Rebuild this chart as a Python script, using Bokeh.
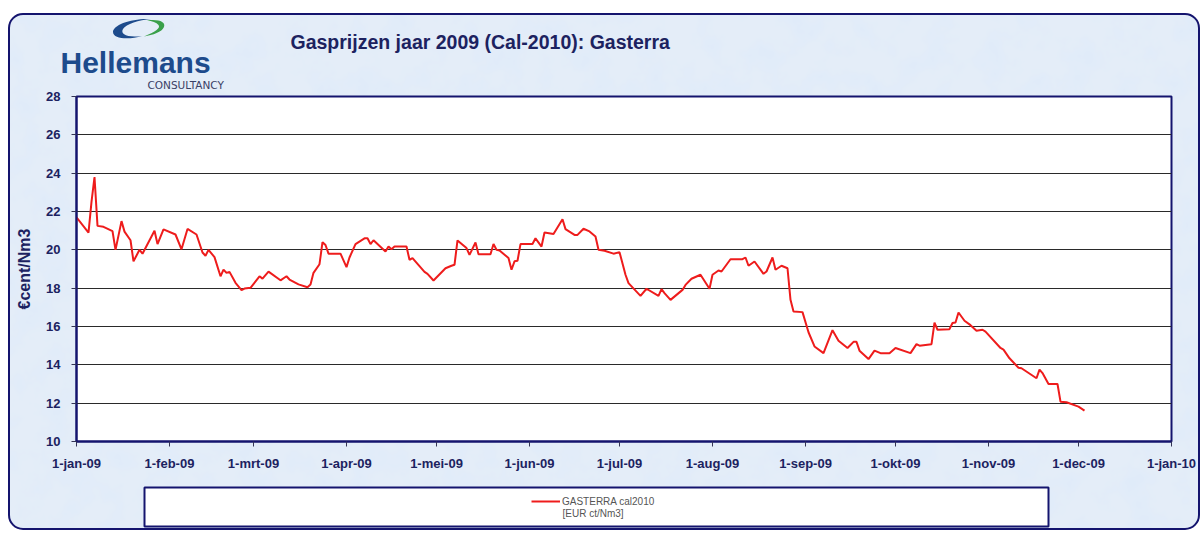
import urllib.parse
import pandas as pd
from datetime import datetime
from bokeh.plotting import figure
from bokeh.layouts import column
from bokeh.models import (FixedTicker, Title, Legend, LegendItem, Label, BoxAnnotation,
                          ColumnDataSource)
from bokeh.embed import file_html
from bokeh.resources import INLINE

# ---------------- data ----------------
dates = [
    "2009-01-01", "2009-01-05", "2009-01-06", "2009-01-07", "2009-01-08", "2009-01-10", "2009-01-13", "2009-01-14", "2009-01-16", "2009-01-17",
    "2009-01-19", "2009-01-20", "2009-01-22", "2009-01-23", "2009-01-27", "2009-01-28", "2009-01-30", "2009-02-03", "2009-02-05", "2009-02-07",
    "2009-02-10", "2009-02-12", "2009-02-13", "2009-02-14", "2009-02-16", "2009-02-18", "2009-02-19", "2009-02-20", "2009-02-21", "2009-02-23",
    "2009-02-25", "2009-02-26", "2009-02-28", "2009-03-03", "2009-03-04", "2009-03-06", "2009-03-10", "2009-03-12", "2009-03-13", "2009-03-16",
    "2009-03-19", "2009-03-20", "2009-03-21", "2009-03-23", "2009-03-24", "2009-03-25", "2009-03-26", "2009-03-30", "2009-04-01", "2009-04-02",
    "2009-04-04", "2009-04-07", "2009-04-08", "2009-04-09", "2009-04-10", "2009-04-14", "2009-04-15", "2009-04-16", "2009-04-17", "2009-04-21",
    "2009-04-22", "2009-04-23", "2009-04-27", "2009-04-28", "2009-04-30", "2009-05-04", "2009-05-06", "2009-05-07", "2009-05-08", "2009-05-11",
    "2009-05-12", "2009-05-14", "2009-05-15", "2009-05-19", "2009-05-20", "2009-05-21", "2009-05-22", "2009-05-25", "2009-05-26", "2009-05-27",
    "2009-05-28", "2009-05-29", "2009-06-02", "2009-06-03", "2009-06-05", "2009-06-06", "2009-06-09", "2009-06-12", "2009-06-13", "2009-06-16",
    "2009-06-17", "2009-06-19", "2009-06-21", "2009-06-23", "2009-06-24", "2009-06-26", "2009-06-29", "2009-07-01", "2009-07-03", "2009-07-04",
    "2009-07-08", "2009-07-10", "2009-07-14", "2009-07-15", "2009-07-16", "2009-07-18", "2009-07-22", "2009-07-23", "2009-07-25", "2009-07-28",
    "2009-07-31", "2009-08-01", "2009-08-03", "2009-08-04", "2009-08-07", "2009-08-11", "2009-08-12", "2009-08-13", "2009-08-15", "2009-08-18",
    "2009-08-19", "2009-08-21", "2009-08-22", "2009-08-24", "2009-08-26", "2009-08-27", "2009-08-28", "2009-08-31", "2009-09-02", "2009-09-04",
    "2009-09-07", "2009-09-10", "2009-09-12", "2009-09-15", "2009-09-17", "2009-09-18", "2009-09-19", "2009-09-22", "2009-09-24", "2009-09-26",
    "2009-09-29", "2009-10-01", "2009-10-06", "2009-10-08", "2009-10-09", "2009-10-13", "2009-10-14", "2009-10-15", "2009-10-19", "2009-10-20",
    "2009-10-21", "2009-10-22", "2009-10-24", "2009-10-26", "2009-10-28", "2009-10-30", "2009-10-31", "2009-11-05", "2009-11-06", "2009-11-08",
    "2009-11-11", "2009-11-12", "2009-11-17", "2009-11-18", "2009-11-19", "2009-11-21", "2009-11-24", "2009-11-25", "2009-11-27", "2009-12-01",
    "2009-12-03",
]
prices = [
    21.7, 20.9, 22.5, 23.8, 21.25, 21.2, 20.98, 20.0, 21.5, 20.95,
    20.5, 19.4, 20.0, 19.8, 21.0, 20.3, 21.07, 20.8, 20.03, 21.09,
    20.8, 19.86, 19.69, 20.0, 19.62, 18.62, 18.97, 18.8, 18.85, 18.28,
    17.9, 17.98, 18.02, 18.62, 18.5, 18.86, 18.41, 18.62, 18.45, 18.2,
    18.05, 18.19, 18.8, 19.25, 20.4, 20.25, 19.8, 19.8, 19.1, 19.6,
    20.3, 20.6, 20.6, 20.3, 20.5, 19.91, 20.17, 20.03, 20.17, 20.17,
    19.48, 19.57, 18.85, 18.75, 18.4, 19.04, 19.17, 19.22, 20.49, 20.09,
    19.74, 20.38, 19.77, 19.77, 20.3, 20.0, 19.97, 19.57, 18.96, 19.4,
    19.43, 20.3, 20.3, 20.6, 20.17, 20.9, 20.83, 21.6, 21.08, 20.78,
    20.78, 21.1, 20.96, 20.7, 20.0, 19.95, 19.8, 19.88, 18.7, 18.26,
    17.6, 17.97, 17.6, 17.95, 17.74, 17.39, 17.91, 18.17, 18.49, 18.7,
    17.97, 18.7, 18.92, 18.87, 19.51, 19.51, 19.6, 19.17, 19.39, 18.75,
    18.87, 19.6, 18.96, 19.17, 19.04, 17.39, 16.78, 16.75, 15.7, 14.96,
    14.61, 15.81, 15.26, 14.88, 15.2, 15.2, 14.74, 14.3, 14.74, 14.61,
    14.61, 14.88, 14.61, 15.08, 15.0, 15.08, 16.2, 15.83, 15.86, 16.18,
    16.21, 16.73, 16.3, 16.07, 15.78, 15.83, 15.73, 14.88, 14.79, 14.34,
    13.85, 13.82, 13.3, 13.75, 13.57, 13.0, 13.0, 12.08, 12.05, 11.82,
    11.61,
]
month_ticks = ["2009-01-01", "2009-02-01", "2009-03-01", "2009-04-01", "2009-05-01", "2009-06-01",
               "2009-07-01", "2009-08-01", "2009-09-01", "2009-10-01", "2009-11-01", "2009-12-01",
               "2010-01-01"]
month_labels = ["1-jan-09", "1-feb-09", "1-mrt-09", "1-apr-09", "1-mei-09", "1-jun-09",
                "1-jul-09", "1-aug-09", "1-sep-09", "1-okt-09", "1-nov-09", "1-dec-09",
                "1-jan-10"]
y_ticks = [10, 12, 14, 16, 18, 20, 22, 24, 26, 28]

series_name = "GASTERRA cal2010"
series_unit = "[EUR ct/Nm3]"
title_text = "Gasprijzen jaar 2009 (Cal-2010): Gasterra"
logo_text = "Hellemans"
logo_sub = "CONSULTANCY"
y_label = "€cent/Nm3"

# ---------------- styling ----------------
NAVY = "#14146e"
TEXT_NAVY = "#1c2260"
RED = "#ee1c1c"
FONT = "Liberation Sans"


def data_uri(svg):
    return 'url("data:image/svg+xml;charset=utf-8,' + urllib.parse.quote(svg) + '")'


swoosh_svg = ("<svg xmlns='http://www.w3.org/2000/svg' width='56' height='23' viewBox='0 0 56 23'>"
              "<path d='M40 2 C20 1 2 8 2 15 C2 22 18 23 31 19 C16 21 9 17 12 12 C15 7 28 3 40 2 Z' fill='#1d4b8c'/>"
              "<path d='M36 3.5 C48 2 55 5 53 10 C51 15 42 18 33 19.5 C44 15 50 11 47.5 8 C45.5 5.5 41 4 36 3.5 Z' fill='#3aa04a'/>"
              "</svg>")
noise_svg = ("<svg xmlns='http://www.w3.org/2000/svg' width='1200' height='520'>"
             "<filter id='f'><feTurbulence type='fractalNoise' baseFrequency='0.035' numOctaves='4' seed='7'/>"
             "<feColorMatrix values='0 0 0 0 0.74  0 0 0 0 0.83  0 0 0 0 0.95  0 0 0 2.0 -0.80'/></filter>"
             "<rect width='1200' height='520' fill='#e4edf8'/>"
             "<rect width='1200' height='520' filter='url(#f)'/></svg>")

src = ColumnDataSource(dict(date=pd.to_datetime(dates), price=prices))

# ---------------- main chart ----------------
p = figure(width=1188, height=458, x_axis_type="datetime",
           x_range=(datetime(2009, 1, 1), datetime(2010, 1, 1)), y_range=(10, 28),
           output_backend="svg", toolbar_location=None,
           min_border_left=66, min_border_right=27, min_border_top=81, min_border_bottom=31)

p.background_fill_color = "white"
p.border_fill_color = None
p.outline_line_color = NAVY
p.outline_line_width = 2

r = p.line("date", "price", source=src, line_color=RED, line_width=2)

tick_ms = [pd.Timestamp(d).value // 10**6 for d in month_ticks]
p.xaxis.ticker = FixedTicker(ticks=tick_ms)
p.xaxis.major_label_overrides = {t: lab for t, lab in zip(tick_ms, month_labels)}
p.yaxis.ticker = FixedTicker(ticks=y_ticks)

for ax in (p.xaxis[0], p.yaxis[0]):
    ax.axis_line_color = NAVY
    ax.axis_line_width = 2
    ax.major_tick_line_color = "#333355"
    ax.major_tick_line_width = 1
    ax.major_tick_out = 5
    ax.major_tick_in = 0
    ax.minor_tick_line_color = None
    ax.major_label_text_font = FONT
    ax.major_label_text_font_style = "bold"
    ax.major_label_text_font_size = "13px"
    ax.major_label_text_color = TEXT_NAVY

p.xaxis.major_label_standoff = 9
p.yaxis.major_label_standoff = 11
p.yaxis.axis_label = y_label
p.yaxis.axis_label_text_font = FONT
p.yaxis.axis_label_text_font_style = "bold"
p.yaxis.axis_label_text_font_size = "16px"
p.yaxis.axis_label_text_color = TEXT_NAVY
p.yaxis.axis_label_standoff = 10

p.xgrid.grid_line_color = None
p.ygrid.grid_line_color = "#2a2a2a"
p.ygrid.grid_line_width = 1

# titles stacked above the frame (nearest first)
p.add_layout(Title(text=logo_sub, align="left", offset=71, standoff=12,
                   text_font="DejaVu Sans", text_font_size="10.5px", text_font_style="normal",
                   text_color="#3a4066"), "above")
p.add_layout(Title(text=logo_text, align="left", offset=-16, standoff=-17,
                   text_font=FONT, text_font_size="30px", text_font_style="bold",
                   text_color="#1d4b8c"), "above")
p.add_layout(Title(text=title_text, align="left", offset=214, standoff=0,
                   text_font=FONT, text_font_size="19.5px", text_font_style="bold",
                   text_color=TEXT_NAVY), "above")

# ---------------- legend strip (same side borders as the chart) ----------------
pl = figure(width=1188, height=55, x_range=(0, 1), y_range=(0, 1),
            output_backend="svg", toolbar_location=None,
            x_axis_location=None, y_axis_location=None,
            min_border_left=66, min_border_right=27, min_border_top=0, min_border_bottom=0)
pl.background_fill_color = None
pl.border_fill_color = None
pl.outline_line_color = None
pl.xgrid.grid_line_color = None
pl.ygrid.grid_line_color = None

# the legend's white box, in pixels from the strip frame's left/bottom
pl.add_layout(BoxAnnotation(left=68, right=972, top=41, bottom=2,
                            left_units="screen", right_units="screen",
                            top_units="screen", bottom_units="screen",
                            fill_color="white", fill_alpha=1,
                            line_color=NAVY, line_width=2, line_alpha=1))

# same series drawn here (outside this strip's ranges) only to supply the legend glyph
proxy = pl.line("date", "price", source=src, line_color=RED, line_width=2)
legend = Legend(items=[LegendItem(label=series_name, renderers=[proxy])],
                location=(455, 21), padding=0, margin=0, spacing=0,
                glyph_width=29, glyph_height=12, label_height=12, label_standoff=2,
                label_text_font=FONT, label_text_font_size="10px", label_text_color="#555555",
                background_fill_alpha=0, border_line_alpha=0)
pl.add_layout(legend)
pl.add_layout(Label(x=486, y=15, x_units="screen", y_units="screen",
                    text=series_unit, text_font=FONT, text_font_size="10px",
                    text_color="#555555", text_baseline="middle"))

layout = column(p, pl, spacing=0, styles={
    "margin-left": "8px",
    "margin-top": "13px",
    "border": "2px solid " + NAVY,
    "border-radius": "15px",
    "overflow": "hidden",
    "background-color": "#e0eaf6",
    "background-image": data_uri(swoosh_svg) + ", " + data_uri(noise_svg),
    "background-position": "101px 2px, 0px 0px",
    "background-repeat": "no-repeat, no-repeat",
})

open("out.html", "w").write(file_html(layout, INLINE))
